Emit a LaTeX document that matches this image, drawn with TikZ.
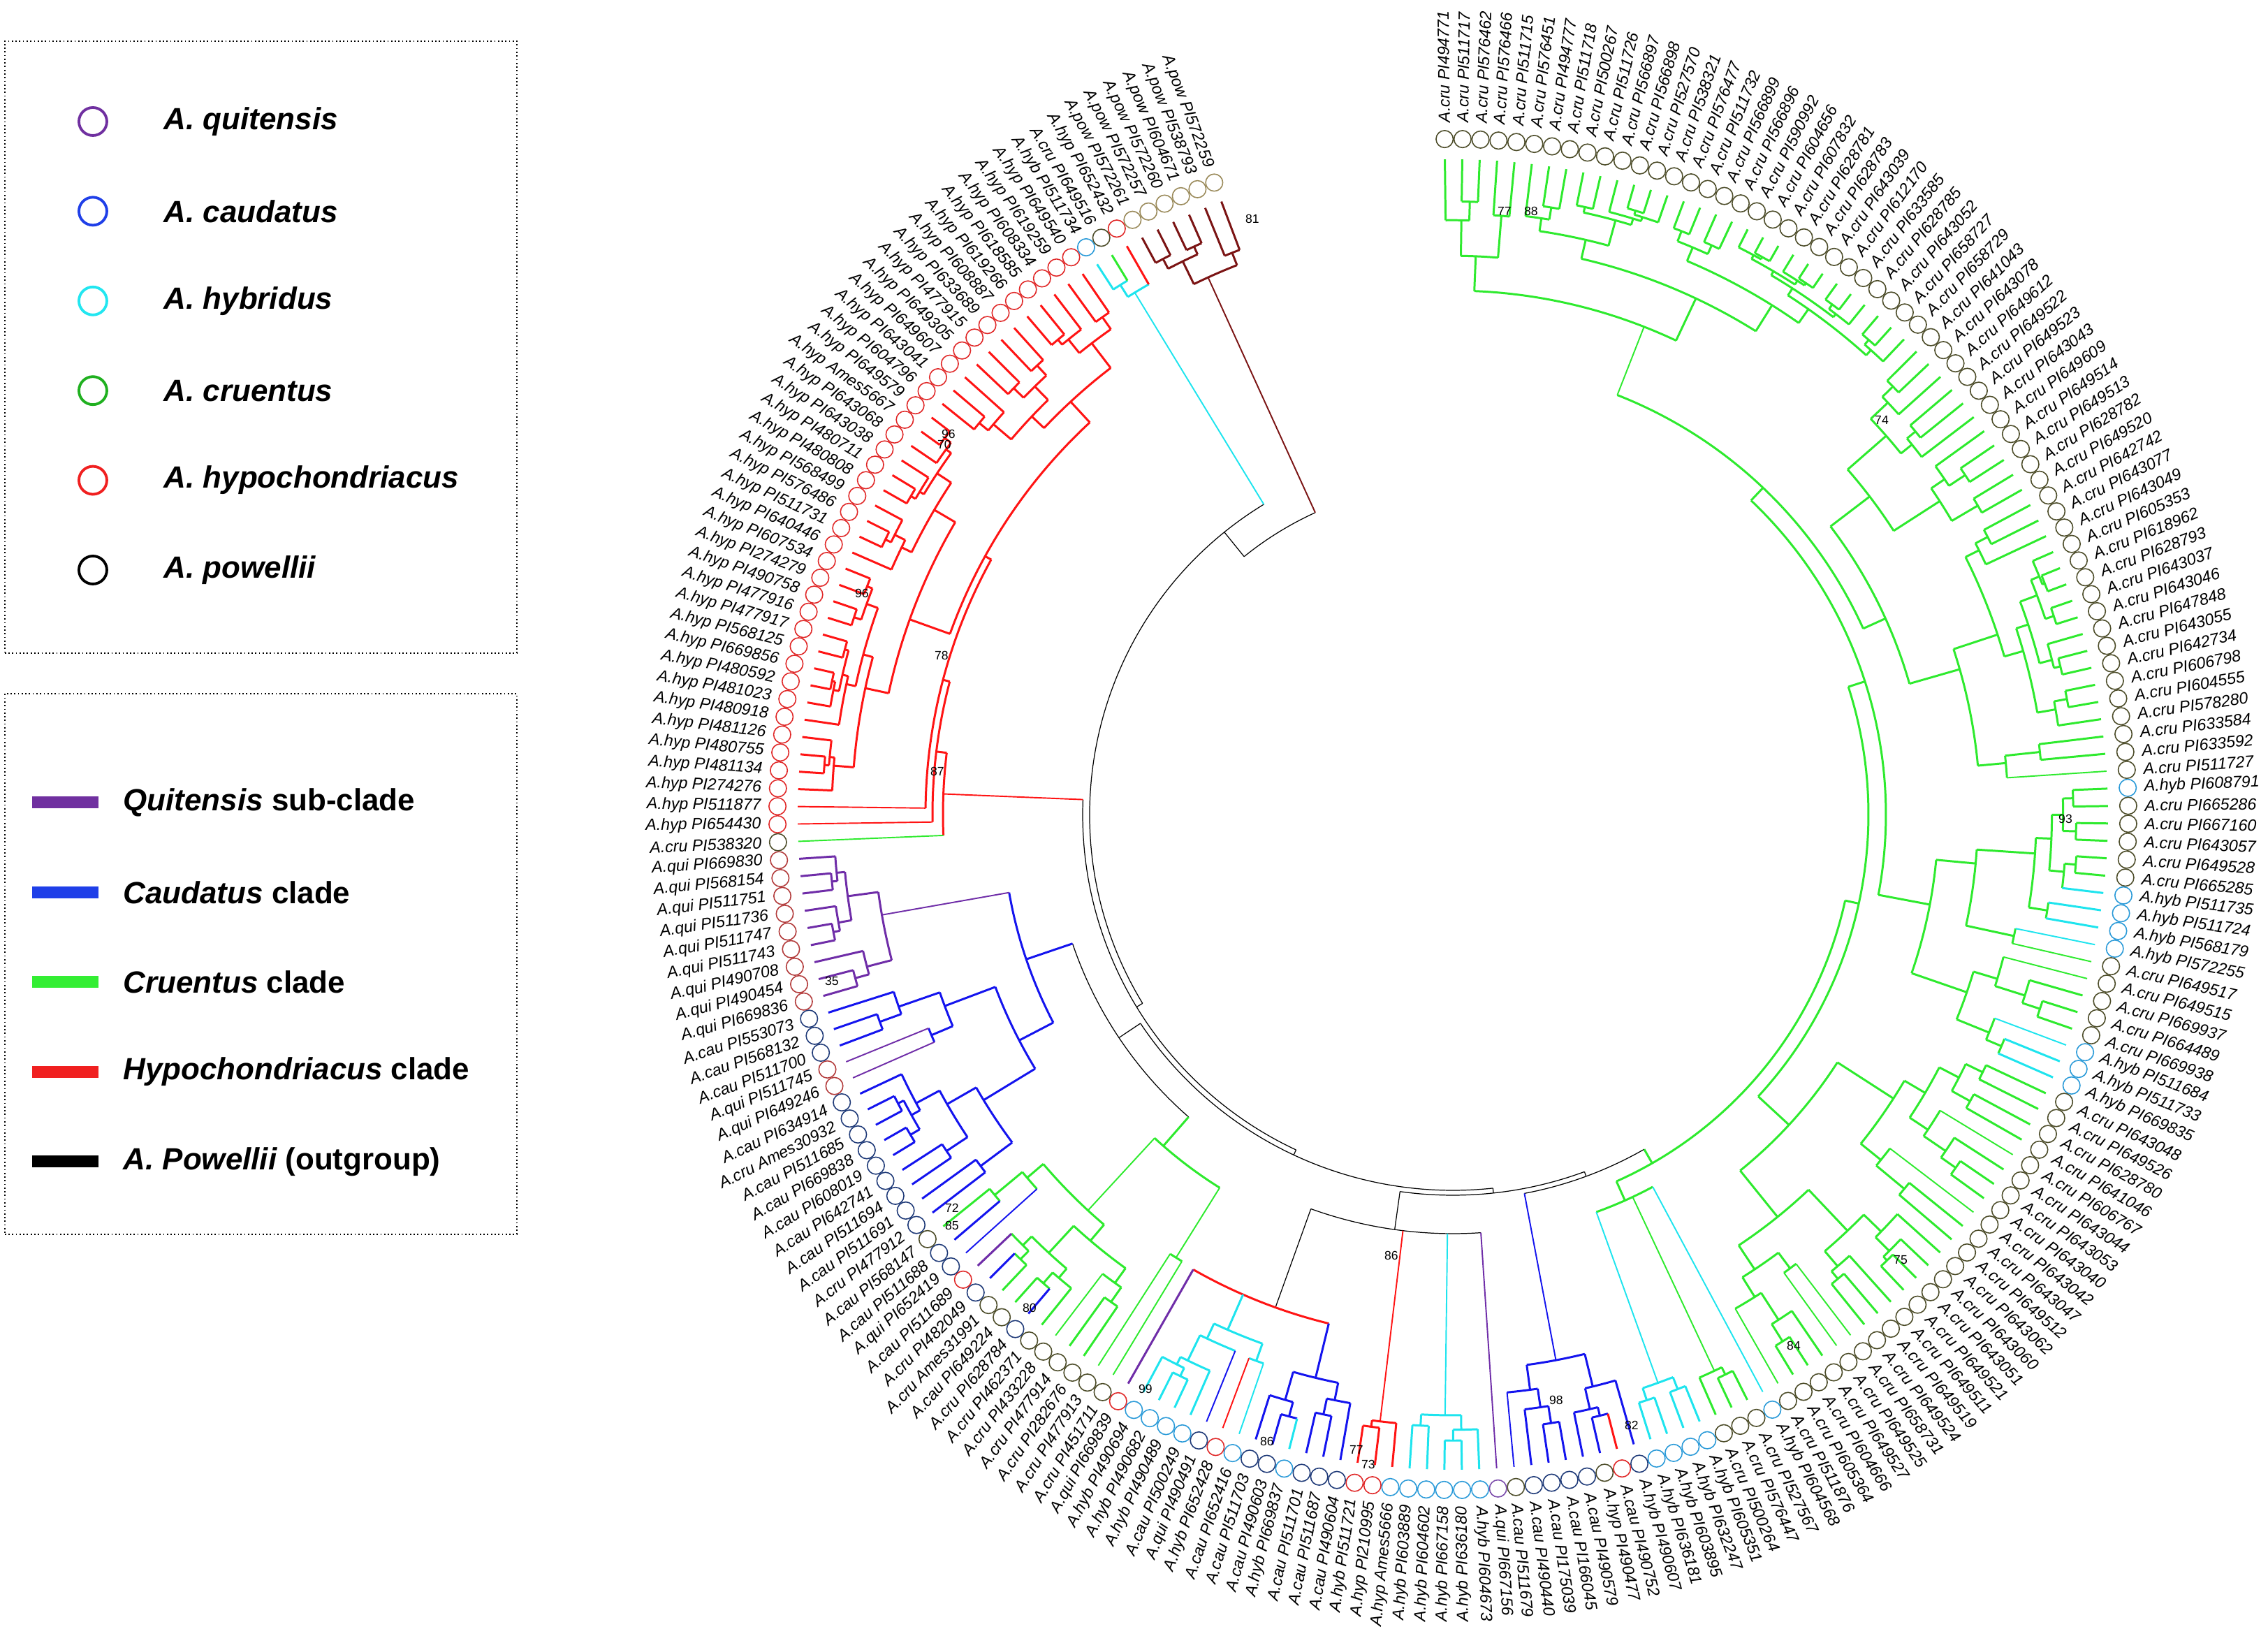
\documentclass[tikz,border=0pt]{standalone}
\usepackage{fontspec}
\setmainfont{Liberation Sans}
\usepackage{tikz}
\usetikzlibrary{positioning}
% branch colours
\definecolor{brg}{HTML}{2EEA2E}
\definecolor{brc}{HTML}{1EE4EE}
\definecolor{brr}{HTML}{FF1414}
\definecolor{brb}{HTML}{1414EE}
\definecolor{brp}{HTML}{6F2DA8}
\definecolor{brk}{HTML}{7B1414}
% circle colours
\definecolor{ccO}{HTML}{4D4D2A}
\definecolor{ccT}{HTML}{9A8A5A}
\definecolor{ccL}{HTML}{2A9AD8}
\definecolor{ccN}{HTML}{1F3A78}
\definecolor{ccR}{HTML}{E02828}
\definecolor{ccQ}{HTML}{B23A3A}
\definecolor{ccP}{HTML}{7A4AAA}
% legend colours
\definecolor{QuiColor}{HTML}{7030A0}
\definecolor{CauColor}{HTML}{1F3FE8}
\definecolor{HybColor}{HTML}{22E6F0}
\definecolor{CruColor}{HTML}{20B020}
\definecolor{HypColor}{HTML}{F02020}
\definecolor{CruBar}{HTML}{33EE33}
\newcommand{\rtip}{9.38}
\newcommand{\rlim}{9.2}
% arc at radius #3 between leaf positions #1 and #2
\newcommand{\bbarc}[4]{%
  \pgfmathsetmacro\tA{90.7-(#1-1)*1.5247}%
  \pgfmathsetmacro\tB{90.7-(#2-1)*1.5247}%
  \draw[#4] (\tA:#3) arc[start angle=\tA, end angle=\tB, radius=#3];}
% radial line at leaf position #1 from #2 to #3
\newcommand{\bbstem}[4]{%
  \pgfmathsetmacro\tA{90.7-(#1-1)*1.5247}%
  \draw[#4] (\tA:#2) -- (\tA:#3);}
% clade of leaves #1..#2, parent radius #3, node radius #4, colour #5
\newcommand{\cladecore}[5]{%
  \begingroup
  \pgfmathsetmacro\tposa{90.7-((#1+#2)/2-1)*1.5247}%
  \ifnum#1=#2\relax
    \edef\tipc{br\csname tc#1\endcsname}%
    \pgfmathtruncatemacro\tlong{(\rtip-#3)>1.0}%
    \ifnum\tlong=1 \def\tw{longline}\else\def\tw{branch}\fi
    \draw[\tw,\tipc] (\tposa:#3) -- (\tposa:\rtip);
  \else
    \pgfmathtruncatemacro\tlong{(#4-#3)>1.0}%
    \ifnum\tlong=1 \def\tw{longline}\else\def\tw{branch}\fi
    \draw[\tw,#5] (\tposa:#3) -- (\tposa:#4);
    \pgfmathtruncatemacro\tsplit{#1+floor((#2-#1)*(0.12+0.76*rnd))}%
    \pgfmathtruncatemacro\tnext{\tsplit+1}%
    \pgfmathsetmacro\tposl{90.7-((#1+\tsplit)/2-1)*1.5247}%
    \pgfmathsetmacro\tposr{90.7-((\tnext+#2)/2-1)*1.5247}%
    \draw[branch,#5] (\tposl:#4) arc[start angle=\tposl, end angle=\tposr, radius=#4];
    \edef\tgo{\noexpand\subtree{#1}{\tsplit}{#4}{#5}\noexpand\subtree{\tnext}{#2}{#4}{#5}}%
    \tgo
  \fi
  \endgroup}
\newcommand{\subtree}[4]{%
  \begingroup
  \pgfmathsetmacro\tnr{#3+(\rlim-#3)*(0.2+0.3*rnd)}%
  \edef\tgo{\noexpand\cladecore{#1}{#2}{#3}{\tnr}{#4}}%
  \tgo
  \endgroup}
\tikzset{
  branch/.style={line width=0.85pt},
  longline/.style={line width=0.55pt},
  rootline/.style={line width=0.35pt,black},
  leafdot/.style={circle,draw,line width=0.45pt,minimum size=0.245cm,inner sep=0pt},
  leaflab/.style={font=\fontsize{6.6}{7}\selectfont\itshape,inner sep=0pt},
  bslab/.style={font=\fontsize{5}{6}\selectfont,inner sep=0pt},
  legtext/.style={font=\fontsize{12.5}{14}\selectfont\bfseries,anchor=west,inner sep=0pt},
  legbox/.style={draw,line width=0.5pt,dash pattern=on 0.5pt off 1pt,inner sep=0pt},
}
\begin{document}
\begin{tikzpicture}[x=1cm,y=1cm]
  \useasboundingbox (-20.80,-11.96) rectangle (11.67,11.66);
  \pgfmathsetseed{11}
  % leaves: circles and labels
  \foreach \nm/\cc/\bc [count=\i] in {
    A.cru PI494771/O/g, A.cru PI511717/O/g, A.cru PI576462/O/g, A.cru PI576466/O/g,
    A.cru PI511715/O/g, A.cru PI576451/O/g, A.cru PI494777/O/g, A.cru PI511718/O/g,
    A.cru PI500267/O/g, A.cru PI511726/O/g, A.cru PI566897/O/g, A.cru PI566898/O/g,
    A.cru PI527570/O/g, A.cru PI538321/O/g, A.cru PI576477/O/g, A.cru PI511732/O/g,
    A.cru PI566899/O/g, A.cru PI566896/O/g, A.cru PI590992/O/g, A.cru PI604656/O/g,
    A.cru PI607832/O/g, A.cru PI628781/O/g, A.cru PI628783/O/g, A.cru PI643039/O/g,
    A.cru PI612170/O/g, A.cru PI633585/O/g, A.cru PI628785/O/g, A.cru PI643052/O/g,
    A.cru PI658727/O/g, A.cru PI658729/O/g, A.cru PI641043/O/g, A.cru PI643078/O/g,
    A.cru PI649612/O/g, A.cru PI649522/O/g, A.cru PI649523/O/g, A.cru PI643043/O/g,
    A.cru PI649609/O/g, A.cru PI649514/O/g, A.cru PI649513/O/g, A.cru PI628782/O/g,
    A.cru PI649520/O/g, A.cru PI642742/O/g, A.cru PI643077/O/g, A.cru PI643049/O/g,
    A.cru PI605353/O/g, A.cru PI618962/O/g, A.cru PI628793/O/g, A.cru PI643037/O/g,
    A.cru PI643046/O/g, A.cru PI647848/O/g, A.cru PI643055/O/g, A.cru PI642734/O/g,
    A.cru PI606798/O/g, A.cru PI604555/O/g, A.cru PI578280/O/g, A.cru PI633584/O/g,
    A.cru PI633592/O/g, A.cru PI511727/O/g, A.hyb PI608791/L/g, A.cru PI665286/O/g,
    A.cru PI667160/O/g, A.cru PI643057/O/g, A.cru PI649528/O/g, A.cru PI665285/O/g,
    A.hyb PI511735/L/c, A.hyb PI511724/L/c, A.hyb PI568179/L/c, A.hyb PI572255/L/c,
    A.cru PI649517/O/g, A.cru PI649515/O/g, A.cru PI669937/O/g, A.cru PI664489/O/g,
    A.cru PI669938/O/g, A.hyb PI511684/L/c, A.hyb PI511733/L/c, A.hyb PI669835/L/c,
    A.cru PI643048/O/g, A.cru PI649526/O/g, A.cru PI628780/O/g, A.cru PI641046/O/g,
    A.cru PI606767/O/g, A.cru PI643044/O/g, A.cru PI643053/O/g, A.cru PI643040/O/g,
    A.cru PI643042/O/g, A.cru PI643047/O/g, A.cru PI649512/O/g, A.cru PI643062/O/g,
    A.cru PI643060/O/g, A.cru PI643051/O/g, A.cru PI649521/O/g, A.cru PI649511/O/g,
    A.cru PI649519/O/g, A.cru PI649524/O/g, A.cru PI658731/O/g, A.cru PI649525/O/g,
    A.cru PI649527/O/g, A.cru PI604666/O/g, A.cru PI605364/O/g, A.cru PI511876/O/g,
    A.hyb PI604568/L/c, A.cru PI527567/O/g, A.cru PI576447/O/g, A.cru PI500264/O/g,
    A.hyb PI605351/L/c, A.hyb PI632247/L/c, A.hyb PI603895/L/c, A.hyb PI636181/L/c,
    A.hyb PI490607/N/b, A.cau PI490752/R/r, A.hyp PI490477/O/b, A.cau PI490579/N/b,
    A.cau PI166045/N/b, A.cau PI175039/N/b, A.cau PI490440/N/b, A.cau PI511679/O/b,
    A.qui PI667156/P/p, A.hyb PI604673/L/c, A.hyb PI636180/L/c, A.hyb PI667158/L/c,
    A.hyb PI604602/L/c, A.hyb PI603889/L/c, A.hyp Ames5666/L/r, A.hyp PI210995/R/r,
    A.hyb PI511721/R/r, A.cau PI490604/N/b, A.cau PI511687/N/b, A.cau PI511701/N/b,
    A.hyb PI669837/L/c, A.cau PI490603/N/b, A.cau PI511703/N/b, A.cau PI652416/L/c,
    A.hyb PI652428/R/r, A.qui PI490491/N/b, A.cau PI500249/L/c, A.hyb PI490489/L/c,
    A.hyb PI490682/L/c, A.hyb PI490694/L/c, A.qui PI669839/R/p, A.cru PI451711/O/g,
    A.cru PI477913/O/g, A.cru PI282676/O/g, A.cru PI477914/O/g, A.cru PI433228/O/g,
    A.cru PI462371/O/g, A.cru PI628784/N/b, A.cau PI649224/O/g, A.cru Ames31991/O/g,
    A.cru PI482049/N/b, A.cau PI511689/R/p, A.qui PI652419/N/b, A.cau PI511688/N/b,
    A.cau PI568147/O/g, A.cru PI477912/N/b, A.cau PI511691/N/b, A.cau PI511694/N/b,
    A.cau PI642741/N/b, A.cau PI608019/N/b, A.cau PI669838/N/b, A.cau PI511685/N/b,
    A.cru Ames30932/N/b, A.cau PI634914/N/b, A.qui PI649246/Q/p, A.qui PI511745/Q/p,
    A.cau PI511700/N/b, A.cau PI568132/N/b, A.cau PI553073/N/b, A.qui PI669836/Q/p,
    A.qui PI490454/Q/p, A.qui PI490708/Q/p, A.qui PI511743/Q/p, A.qui PI511747/Q/p,
    A.qui PI511736/Q/p, A.qui PI511751/Q/p, A.qui PI568154/Q/p, A.qui PI669830/Q/p,
    A.cru PI538320/O/g, A.hyp PI654430/R/r, A.hyp PI511877/R/r, A.hyp PI274276/R/r,
    A.hyp PI481134/R/r, A.hyp PI480755/R/r, A.hyp PI481126/R/r, A.hyp PI480918/R/r,
    A.hyp PI481023/R/r, A.hyp PI480592/R/r, A.hyp PI669856/R/r, A.hyp PI568125/R/r,
    A.hyp PI477917/R/r, A.hyp PI477916/R/r, A.hyp PI490758/R/r, A.hyp PI274279/R/r,
    A.hyp PI607534/R/r, A.hyp PI640446/R/r, A.hyp PI511731/R/r, A.hyp PI576486/R/r,
    A.hyp PI568499/R/r, A.hyp PI480808/R/r, A.hyp PI480711/R/r, A.hyp PI643038/R/r,
    A.hyp PI643068/R/r, A.hyp Ames5667/R/r, A.hyp PI649579/R/r, A.hyp PI604796/R/r,
    A.hyp PI643041/R/r, A.hyp PI649607/R/r, A.hyp PI649305/R/r, A.hyp PI477915/R/r,
    A.hyp PI633689/R/r, A.hyp PI608887/R/r, A.hyp PI619266/R/r, A.hyp PI618585/R/r,
    A.hyp PI608334/R/r, A.hyp PI619259/R/r, A.hyp PI649540/R/r, A.hyb PI511734/L/c,
    A.cru PI649516/O/g, A.hyp PI652432/R/r, A.pow PI572261/T/k, A.pow PI572257/T/k,
    A.pow PI572260/T/k, A.pow PI604671/T/k, A.pow PI538793/T/k, A.pow PI572259/T/k}{
    \pgfmathsetmacro\a{90.7-(\i-1)*1.5247}
    \expandafter\xdef\csname tc\i\endcsname{\bc}
    \node[leafdot,draw=cc\cc] (c\i) at (\a:9.67) {};
    \ifdim\a pt<-89pt
      \node[leaflab,anchor=east,rotate=\a+180] (l\i) at (\a:9.9) {\nm};
    \else
      \node[leaflab,anchor=west,rotate=\a] (l\i) at (\a:9.9) {\nm};
    \fi
  }

  % backbone near the root
  \bbarc{221.5}{212}{4.75}{rootline}
  \cladecore{219}{224}{4.75}{8.45}{brk}
  \bbstem{212}{4.75}{5.2}{rootline}
  \bbarc{217}{158.0}{5.2}{rootline}
  \cladecore{216}{218}{5.2}{8.75}{brc}
  \bbstem{158.0}{5.2}{5.3}{rootline}
  \bbarc{180.06}{135.95}{5.3}{rootline}
  \bbstem{135.95}{5.3}{5.38}{rootline}
  \bbarc{156.4}{115.5}{5.38}{rootline}
  \bbstem{115.5}{5.38}{5.45}{rootline}
  \bbarc{124.75}{106.25}{5.45}{rootline}
  \bbstem{106.25}{5.45}{5.52}{rootline}
  \bbarc{112.5}{100}{5.52}{rootline}

  % hypochondriacus clade
  \bbstem{180.06}{5.3}{7.3}{longline,brr}
  \bbarc{177}{183.1}{7.3}{branch,brr}
  \bbstem{177}{7.3}{\rtip}{longline,brg}
  \bbstem{183.1}{7.3}{7.45}{branch,brr}
  \bbarc{178}{188.25}{7.45}{branch,brr}
  \bbstem{178}{7.45}{\rtip}{longline,brr}
  \bbstem{188.25}{7.45}{7.55}{branch,brr}
  \bbarc{179}{197.5}{7.55}{branch,brr}
  \bbstem{179}{7.55}{\rtip}{longline,brr}
  \cladecore{180}{215}{7.55}{7.65}{brr}

  % quitensis / caudatus / cruentus group on the left
  \bbstem{156.4}{5.38}{5.75}{rootline}
  \bbarc{146.5}{166.25}{5.75}{rootline}
  \cladecore{140}{153}{5.75}{6.3}{brg}
  \bbstem{166.25}{5.75}{6.45}{branch,brb}
  \bbarc{160.5}{172}{6.45}{branch,brb}
  \cladecore{154}{167}{6.45}{7.0}{brb}
  \cladecore{168}{176}{6.45}{8.3}{brp}

  % mixed group at the bottom
  \bbstem{124.75}{5.45}{6.0}{rootline}
  \bbarc{117}{132.5}{6.0}{rootline}
  \bbstem{117}{6.0}{\rtip}{longline,brp}
  \cladecore{118}{122}{6.0}{8.6}{brc}
  \cladecore{123}{125}{6.0}{8.75}{brr}
  \bbstem{132.5}{6.0}{7.5}{rootline}
  \bbarc{128.5}{139}{7.5}{branch,brr}
  \cladecore{126}{131}{7.5}{8.3}{brb}
  \cladecore{132}{138}{7.5}{8.05}{brc}
  \bbstem{139}{7.5}{\rtip}{branch,brp}

  % caudatus clade
  \cladecore{109}{116}{5.52}{7.95}{brb}

  % cruentus clade
  \bbstem{100}{5.52}{5.75}{branch,brg}
  \bbarc{68.6}{103.75}{5.75}{branch,brg}
  \bbstem{103.75}{5.75}{6.05}{branch,brg}
  \bbarc{101}{106.5}{6.05}{branch,brg}
  \bbstem{101}{6.05}{\rtip}{longline,brc}
  \cladecore{102}{104}{6.05}{8.8}{brg}
  \cladecore{105}{108}{6.05}{8.65}{brc}
  \bbstem{68.6}{5.75}{5.95}{branch,brg}
  \bbarc{48.75}{88.5}{5.95}{branch,brg}
  \cladecore{77}{100}{5.95}{6.55}{brg}
  \bbstem{48.75}{5.95}{6.2}{branch,brg}
  \bbarc{30}{67.5}{6.2}{branch,brg}
  \cladecore{59}{76}{6.2}{6.95}{brg}
  \bbstem{30}{6.2}{6.45}{branch,brg}
  \bbarc{15.5}{44.5}{6.45}{branch,brg}
  \cladecore{1}{30}{6.45}{7.5}{brg}
  \cladecore{31}{58}{6.45}{6.8}{brg}

  % bootstrap values
  \node[bslab] (bs1) at (-2.87,8.53) {81};
  \node[bslab] (bs2) at (0.74,8.64) {77};
  \node[bslab] (bs3) at (1.12,8.64) {88};
  \node[bslab] (bs4) at (6.14,5.65) {74};
  \node[bslab] (bs5) at (8.77,-0.06) {93};
  \node[bslab] (bs6) at (6.41,-6.38) {75};
  \node[bslab] (bs7) at (4.88,-7.60) {84};
  \node[bslab] (bs8) at (2.56,-8.74) {82};
  \node[bslab] (bs9) at (1.48,-8.38) {98};
  \node[bslab] (bs10) at (-0.88,-6.31) {86};
  \node[bslab] (bs11) at (-1.38,-9.09) {77};
  \node[bslab] (bs12) at (-1.21,-9.30) {73};
  \node[bslab] (bs13) at (-2.66,-8.97) {86};
  \node[bslab] (bs14) at (-4.40,-8.22) {99};
  \node[bslab] (bs15) at (-6.06,-7.06) {80};
  \node[bslab] (bs16) at (-7.17,-5.63) {72};
  \node[bslab] (bs17) at (-7.17,-5.88) {85};
  \node[bslab] (bs18) at (-8.89,-2.38) {35};
  \node[bslab] (bs19) at (-7.38,0.62) {87};
  \node[bslab] (bs20) at (-7.32,2.28) {78};
  \node[bslab] (bs21) at (-8.46,3.17) {96};
  \node[bslab] (bs22) at (-7.22,5.45) {96};
  \node[bslab] (bs23) at (-7.28,5.30) {70};

  % legend: species
  \node[legbox,minimum width=7.33cm,minimum height=8.76cm,anchor=north west] (spbox) at (-20.74,11.08) {};
  \foreach \col/\sp [count=\k] in {QuiColor/A. quitensis, CauColor/A. caudatus,
      HybColor/A. hybridus, CruColor/A. cruentus, HypColor/A. hypochondriacus, black/A. powellii}{
    \pgfmathsetmacro\yy{9.92-(\k-1)*1.284}
    \node[circle,draw=\col,line width=1.1pt,minimum size=0.4cm,inner sep=0pt] (sp\k) at (-19.47,\yy) {};
    \node[legtext] (spt\k) at (-18.46,\yy) {\itshape\sp};
  }

  % legend: clades
  \node[legbox,minimum width=7.33cm,minimum height=7.74cm,anchor=north west] (clbox) at (-20.74,1.74) {};
  \foreach \col/\cl [count=\k] in {QuiColor/{\itshape Quitensis} sub-clade, CauColor/{\itshape Caudatus} clade,
      CruBar/{\itshape Cruentus} clade, HypColor/{\itshape Hypochondriacus} clade,
      black/{\itshape A. Powellii} (outgroup)}{
    \pgfmathsetmacro\yy{0.17-(\k-1)*1.285}
    \node[fill=\col,minimum width=0.95cm,minimum height=0.17cm,inner sep=0pt] (cb\k) at (-19.865,\yy) {};
    \node[legtext] (clt\k) at (-19.04,\yy) {\cl};
  }
\end{tikzpicture}
\end{document}
